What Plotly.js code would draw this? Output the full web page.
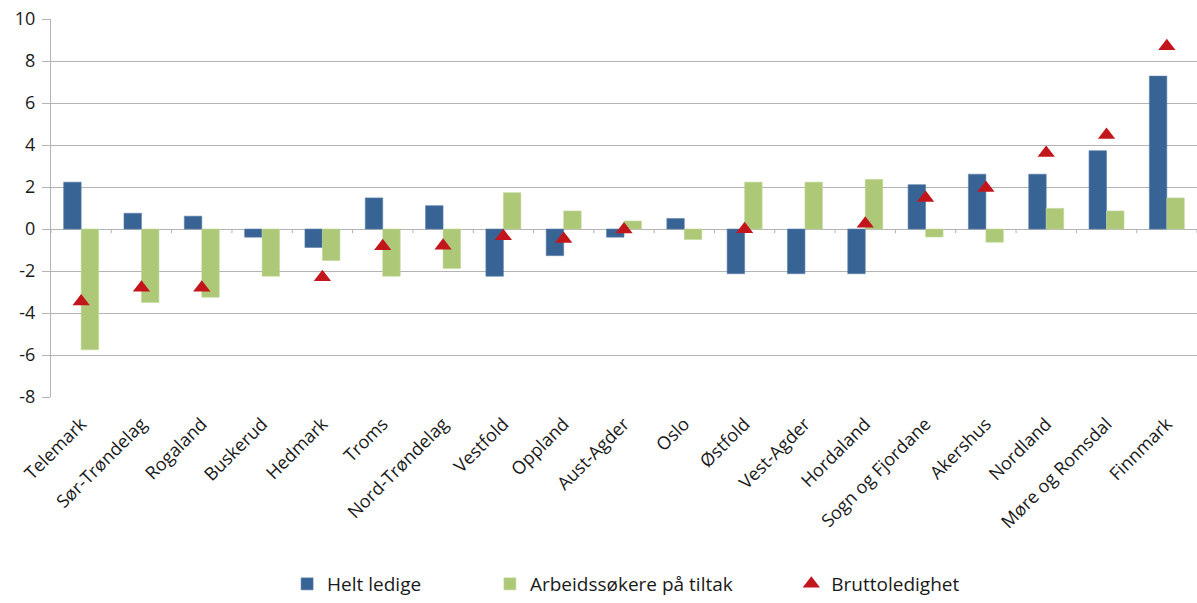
<!DOCTYPE html>
<html>
<head>
<meta charset="utf-8">
<script src="https://cdn.plot.ly/plotly-3.0.1.min.js"></script>
<style>
html,body{margin:0;padding:0;background:#fff;}
#chart{width:1197px;height:603px;}
</style>
</head>
<body>
<div id="chart"></div>
<script>
const categories = ["Telemark","Sør-Trøndelag","Rogaland","Buskerud","Hedmark","Troms","Nord-Trøndelag","Vestfold","Oppland","Aust-Agder","Oslo","Østfold","Vest-Agder","Hordaland","Sogn og Fjordane","Akershus","Nordland","Møre og Romsdal","Finnmark"];
const heltLedige = [2.23, 0.75, 0.61, -0.39, -0.88, 1.48, 1.11, -2.25, -1.27, -0.39, 0.5, -2.13, -2.13, -2.13, 2.11, 2.61, 2.61, 3.73, 7.28];
const tiltak = [-5.75, -3.5, -3.25, -2.25, -1.5, -2.25, -1.88, 1.73, 0.86, 0.38, -0.5, 2.23, 2.23, 2.36, -0.38, -0.63, 0.98, 0.86, 1.48];
const brutto = [-3.45, -2.8, -2.8, null, -2.3, -0.82, -0.8, -0.35, -0.48, -0.02, null, -0.01, null, 0.25, 1.48, 1.95, 3.62, 4.48, 8.7];
const seriesNames = ["Helt ledige", "Arbeidssøkere på tiltak", "Bruttoledighet"];
const yTicks = [-8, -6, -4, -2, 0, 2, 4, 6, 8, 10];

const FONT = "'Open Sans', 'DejaVu Sans', sans-serif";
const grid = "#b4b4b4";

const traces = [
  {type: "bar", name: seriesNames[0], x: categories, y: heltLedige, legend: "legend",
   marker: {color: "#386495", line: {color: "#5b7fa8", width: 0.6}}},
  {type: "bar", name: seriesNames[1], x: categories, y: tiltak, legend: "legend2",
   marker: {color: "#adc877", line: {color: "#c3d79c", width: 0.6}}},
  {type: "scatter", mode: "markers", name: seriesNames[2], x: categories, y: brutto, legend: "legend3",
   marker: {symbol: "triangle-up", size: 15, color: "#c3161c"}}
];

// small category-boundary tick marks on the zero line
const shapes = [];
for (let i = 0; i <= categories.length; i++) {
  shapes.push({type: "line", xref: "x", yref: "y", x0: i - 0.5, x1: i - 0.5, y0: 0, y1: -0.2,
    line: {color: grid, width: 1}});
}

function leg(x) {
  return {orientation: "v", x: x, xanchor: "left", y: -0.545, yanchor: "bottom",
    font: {size: 19, family: FONT, color: "#1a1a1a"}, itemwidth: 30, bgcolor: "rgba(0,0,0,0)"};
}

const layout = {
  width: 1197, height: 603,
  margin: {l: 51, r: 0, t: 19, b: 206, autoexpand: false},
  paper_bgcolor: "#fff", plot_bgcolor: "#fff",
  barmode: "group", bargap: 0.42, bargroupgap: 0,
  font: {family: FONT, color: "#1a1a1a"},
  showlegend: true,
  legend: leg(0.206),
  legend2: leg(0.383),
  legend3: leg(0.646),
  xaxis: {type: "category", range: [-0.5, categories.length - 0.5],
    tickangle: -45, tickfont: {size: 18, family: FONT, color: "#1a1a1a"},
    ticklabelstandoff: 12,
    showgrid: false, showline: false, zeroline: false, ticks: "", automargin: false},
  yaxis: {range: [-8, 10], tickvals: yTicks, ticktext: yTicks.map(String),
    tickfont: {size: 18, family: FONT, color: "#1a1a1a"},
    ticklabelstandoff: 3,
    showgrid: true, gridcolor: grid, gridwidth: 1,
    zeroline: true, zerolinecolor: grid, zerolinewidth: 1,
    showline: true, linecolor: grid, linewidth: 1,
    ticks: "outside", ticklen: 8, tickcolor: grid, automargin: false},
  shapes: shapes
};

Plotly.newPlot("chart", traces, layout, {displayModeBar: false, staticPlot: true});
</script>
</body>
</html>
